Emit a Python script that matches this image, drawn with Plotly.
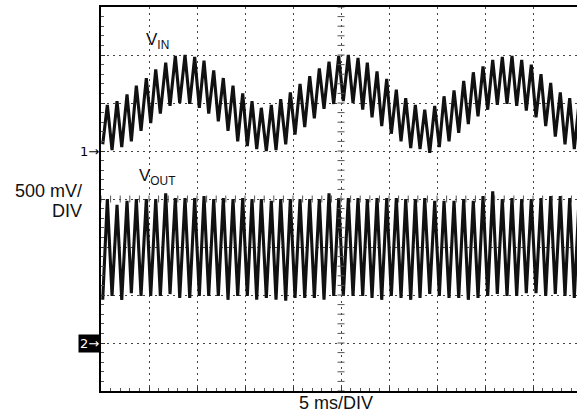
import numpy as np
import plotly.graph_objects as go

# Vertex times of the scope traces (ms) (trough, peak alternating)
t_ms = [0.18, 0.66, 1.15, 1.67, 2.16, 2.71, 3.16, 3.68, 4.17, 4.72,
        5.18, 5.70, 6.18, 6.74, 7.19, 7.74, 8.20, 8.75, 9.24, 9.76,
        10.24, 10.73, 11.22, 11.74, 12.22, 12.74, 13.23, 13.75, 14.24, 14.76,
        15.24, 15.73, 16.22, 16.70, 17.22, 17.74, 18.23, 18.72, 19.24, 19.72,
        20.21, 20.73, 21.22, 21.74, 22.22, 22.74, 23.23, 23.75, 24.24, 24.76,
        25.24, 25.76, 26.25, 26.77, 27.26, 27.74, 28.23, 28.75, 29.24, 29.76,
        30.24, 30.76, 31.25, 31.74, 32.26, 32.74, 33.23, 33.72, 34.24, 34.76,
        35.24, 35.73, 36.25, 36.77, 37.26, 37.78, 38.26, 38.78, 39.27, 39.79,
        40.28, 40.80, 41.28, 41.80, 42.29, 42.81, 43.30, 43.82, 44.30, 44.82,
        45.31, 45.83, 46.32, 46.84, 47.32, 47.84, 48.33, 48.82, 49.30, 49.79]

# VIN (V, relative to channel-1 marker)
vin_v = [0.07, 0.48, 0.01, 0.52, 0.04, 0.59, 0.10, 0.68, 0.21, 0.76,
         0.29, 0.85, 0.39, 0.92, 0.47, 0.99, 0.50, 1.00, 0.49, 0.98,
         0.45, 0.94, 0.39, 0.84, 0.31, 0.76, 0.21, 0.68, 0.10, 0.60,
         0.05, 0.52, 0.02, 0.45, 0.00, 0.48, 0.01, 0.54, 0.07, 0.61,
         0.17, 0.70, 0.25, 0.78, 0.34, 0.86, 0.44, 0.93, 0.49, 0.99,
         0.52, 1.00, 0.50, 0.97, 0.43, 0.92, 0.35, 0.83, 0.26, 0.75,
         0.18, 0.64, 0.10, 0.55, 0.03, 0.48, 0.02, 0.43, -0.02, 0.47,
         0.04, 0.57, 0.10, 0.63, 0.19, 0.73, 0.28, 0.82, 0.36, 0.88,
         0.43, 0.95, 0.48, 0.98, 0.49, 0.99, 0.47, 0.95, 0.42, 0.90,
         0.35, 0.80, 0.26, 0.71, 0.15, 0.61, 0.07, 0.55, 0.02, 0.50]

# VOUT (V, relative to channel-2 marker)
vout_v = [0.45, 1.50, 0.49, 1.44, 0.45, 1.48, 0.52, 1.50, 0.49, 1.50,
          0.49, 1.50, 0.49, 1.56, 0.51, 1.51, 0.47, 1.51, 0.47, 1.51,
          0.49, 1.53, 0.49, 1.50, 0.49, 1.51, 0.45, 1.50, 0.49, 1.51,
          0.49, 1.50, 0.45, 1.50, 0.47, 1.48, 0.45, 1.50, 0.44, 1.50,
          0.47, 1.50, 0.47, 1.50, 0.47, 1.50, 0.45, 1.56, 0.49, 1.51,
          0.49, 1.51, 0.49, 1.51, 0.49, 1.50, 0.47, 1.51, 0.45, 1.51,
          0.49, 1.51, 0.47, 1.50, 0.45, 1.50, 0.47, 1.51, 0.51, 1.48,
          0.49, 1.48, 0.47, 1.48, 0.47, 1.50, 0.45, 1.48, 0.47, 1.53,
          0.49, 1.58, 0.51, 1.50, 0.49, 1.51, 0.49, 1.50, 0.52, 1.50,
          0.52, 1.51, 0.49, 1.53, 0.51, 1.53, 0.49, 1.51, 0.47, 1.50]

trace_labels = ["V<sub>IN</sub>", "V<sub>OUT</sub>"]
y_label = ["500 mV/", "DIV"]
x_label = "5 ms/DIV"

CH1_OFFSET = 2.5   # screen volts (channel 1 ground marker)
CH2_OFFSET = 0.5   # screen volts (channel 2 ground marker)
X_MAX = 49.58      # visible ms (screen cut at right)
Y_MAX = 4.0

FONT = "Liberation Sans, Arial, Helvetica, sans-serif"
INK = "#111111"
GRID = "#444444"

fig = go.Figure()

fig.add_trace(go.Scatter(x=t_ms, y=[v + CH1_OFFSET for v in vin_v], mode="lines",
                         line=dict(color=INK, width=3.1), hoverinfo="skip", showlegend=False))
fig.add_trace(go.Scatter(x=t_ms, y=[v + CH2_OFFSET for v in vout_v], mode="lines",
                         line=dict(color=INK, width=3.1), hoverinfo="skip", showlegend=False))

# centre crosshair tick marks (graticule decoration)
cx = np.arange(0, X_MAX, 1.0)
fig.add_trace(go.Scatter(x=cx, y=[Y_MAX / 2] * len(cx), mode="markers",
                         marker=dict(symbol="line-ns", size=5, line=dict(color="#555", width=1)),
                         hoverinfo="skip", showlegend=False))
cy = np.arange(0, Y_MAX + 0.001, 0.1)
fig.add_trace(go.Scatter(x=[25] * len(cy), y=cy, mode="markers",
                         marker=dict(symbol="line-ew", size=5, line=dict(color="#555", width=1)),
                         hoverinfo="skip", showlegend=False))

fig.update_layout(
    width=577, height=420,
    margin=dict(l=101, r=0, t=7, b=29),
    paper_bgcolor="white", plot_bgcolor="white",
    font=dict(family=FONT, color="#111"),
    xaxis=dict(range=[0, X_MAX], dtick=5, showticklabels=False, zeroline=False,
               showgrid=True, gridcolor=GRID, griddash="1.5px,4.5px", gridwidth=1,
               showline=True, linecolor="black", linewidth=2, mirror=True,
               ticks="inside", ticklen=4, tickcolor="#333",
               minor=dict(dtick=1, ticks="inside", ticklen=3, tickcolor="#555", showgrid=False)),
    yaxis=dict(range=[0, Y_MAX], dtick=0.5, showticklabels=False, zeroline=False,
               showgrid=True, gridcolor=GRID, griddash="1.5px,4.5px", gridwidth=1,
               showline=True, linecolor="black", linewidth=2, mirror=False,
               ticks="inside", ticklen=4, tickcolor="#333",
               minor=dict(dtick=0.1, ticks="inside", ticklen=3, tickcolor="#555", showgrid=False)),
)

LEFT_X = -0.036  # paper x just left of the plot area
ann = []
ann.append(dict(x=4.5, y=3.65, xref="x", yref="y", text=trace_labels[0], showarrow=False,
                xanchor="left", yanchor="middle", font=dict(size=17, family=FONT)))
ann.append(dict(x=3.7, y=2.23, xref="x", yref="y", text=trace_labels[1], showarrow=False,
                xanchor="left", yanchor="middle", font=dict(size=17, family=FONT)))
ann.append(dict(x=LEFT_X, y=0.522, xref="paper", yref="paper", text=y_label[0], showarrow=False,
                xanchor="right", yanchor="middle", font=dict(size=18, family=FONT)))
ann.append(dict(x=LEFT_X, y=0.47, xref="paper", yref="paper", text=y_label[1], showarrow=False,
                xanchor="right", yanchor="middle", font=dict(size=18, family=FONT)))
ann.append(dict(x=24.45, y=-0.03, xref="x", yref="paper", text=x_label, showarrow=False,
                xanchor="center", yanchor="middle", font=dict(size=18, family=FONT)))
ann.append(dict(x=0, y=CH1_OFFSET, xref="x", yref="y", text="1\u2192", showarrow=False,
                xanchor="right", yanchor="middle", font=dict(size=13, family="DejaVu Sans", color="black")))
ann.append(dict(x=0, y=CH2_OFFSET, xref="x", yref="y", text="2\u2192", showarrow=False,
                xanchor="right", yanchor="middle", bgcolor="black", borderpad=1,
                font=dict(size=13, family="DejaVu Sans", color="white")))
fig.update_layout(annotations=ann)

fig.write_html("out.html", config={"displayModeBar": False},
               post_script="document.body.style.margin='0';")
